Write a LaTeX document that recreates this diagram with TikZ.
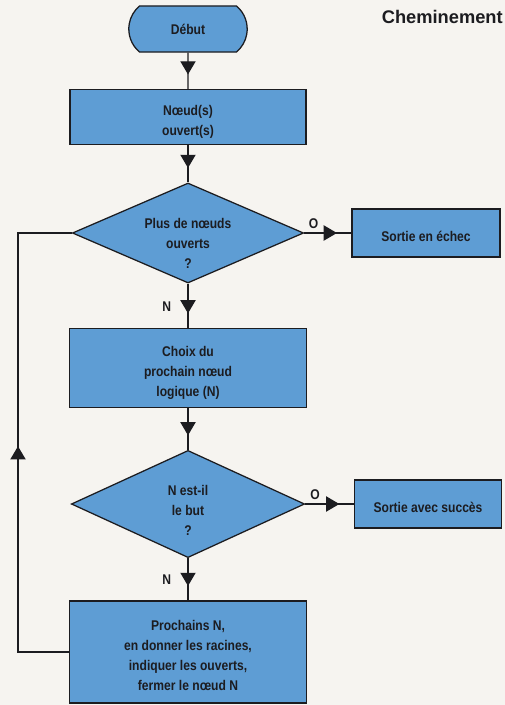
\documentclass[tikz,border=0pt]{standalone}
\usepackage{fontspec}
\setmainfont{Liberation Sans}
\newfontfamily\flowfont{Liberation Sans}[FakeStretch=0.86]
\usetikzlibrary{shapes.geometric}
\usetikzlibrary{shapes.misc}
\usetikzlibrary{arrows.meta}
\usetikzlibrary{decorations.markings}
\definecolor{boxblue}{RGB}{94,157,212}
\definecolor{paper}{RGB}{246,244,240}
\definecolor{ink}{RGB}{28,28,32}
\newcommand{\flowtext}[2]{\raisebox{#1}[0pt][0pt]{\begin{tabular}{@{}c@{}}#2\end{tabular}}}

\begin{document}
\begin{tikzpicture}[x=0.025cm, y=-0.025cm]
            \tikzstyle{box} = [draw=ink, fill=boxblue, line width=0.9pt, text=ink, align=center, inner sep=2pt, font=\flowfont\bfseries\fontsize{10}{14.2}\selectfont]
            \tikzstyle{start} = [box, rounded rectangle, rounded rectangle arc length=100]
            \tikzstyle{test} = [box, diamond, aspect=2.3, inner sep=0pt]
            \tikzstyle{flow} = [draw=ink, line width=0.9pt, postaction={decorate}, decoration={markings, mark=at position -0.36cm with {\arrow{Triangle[width=0.38cm, length=0.33cm]}}}]
            \tikzstyle{back flow} = [draw=ink, line width=0.9pt, postaction={decorate}, decoration={markings, mark=at position 0.49 with {\arrow{Triangle[width=0.38cm, length=0.33cm]}}}]
            \tikzstyle{lbl} = [text=ink, font=\flowfont\bfseries\fontsize{10}{12}\selectfont, inner sep=3pt]

            \fill[paper] (0, 0) rectangle (505, 705);
            \useasboundingbox (0, 0) rectangle (505, 705);

            \node[text=ink, anchor=east, inner sep=0pt, font=\bfseries\fontsize{13}{15}\selectfont] (title) at (503, 17) {Cheminement};

            % colonne principale
            \node[start, minimum width=3.1cm, minimum height=1.15cm] (debut) at (188, 29) {Début};
            \node[box, minimum width=5.9cm, minimum height=1.375cm] (ouverts) at (188, 117) {\flowtext{-6pt}{Nœud(s)\\ouvert(s)}};
            \node[test, minimum width=5.78cm, minimum height=2.5cm] (plus) at (188, 233) {\flowtext{-11pt}{Plus de nœuds\\ouverts\\?}};
            \node[box, minimum width=5.93cm, minimum height=1.98cm] (choix) at (188, 368) {\flowtext{-6pt}{Choix du\\prochain nœud\\logique (N)}};
            \node[test, minimum width=5.83cm, minimum height=2.68cm] (but) at (188, 504) {\flowtext{-8pt}{N est-il\\le but\\?}};
            \node[box, minimum width=5.93cm, minimum height=2.55cm] (suivants) at (188, 652) {\flowtext{-6pt}{Prochains N,\\en donner les racines,\\indiquer les ouverts,\\fermer le nœud N}};

            % sorties
            \node[box, minimum width=3.7cm, minimum height=1.2cm] (echec) at (426, 233) {\flowtext{-6pt}{Sortie en échec}};
            \node[box, minimum width=3.68cm, minimum height=1.2cm] (succes) at (428, 504) {\flowtext{-6pt}{Sortie avec succès}};

            \draw[flow] (debut) -- (ouverts);
            \draw[flow] (ouverts) -- (plus);
            \draw[flow] (plus) -- node[lbl, pos=0.2, above] {O} (echec);
            \draw[flow] (plus) -- node[lbl, pos=0.52, left=0.3cm] {N} (choix);
            \draw[flow] (choix) -- (but);
            \draw[flow] (but) -- node[lbl, pos=0.2, above] {O} (succes);
            \draw[flow] (but) -- node[lbl, pos=0.52, left=0.3cm] {N} (suivants);

            % retour
            \coordinate (loop bottom) at (18, 652);
            \coordinate (loop top) at (18, 233);
            \draw[back flow] (suivants.west) -- (loop bottom) -- (loop top) -- (plus.west);
        \end{tikzpicture}
\end{document}
